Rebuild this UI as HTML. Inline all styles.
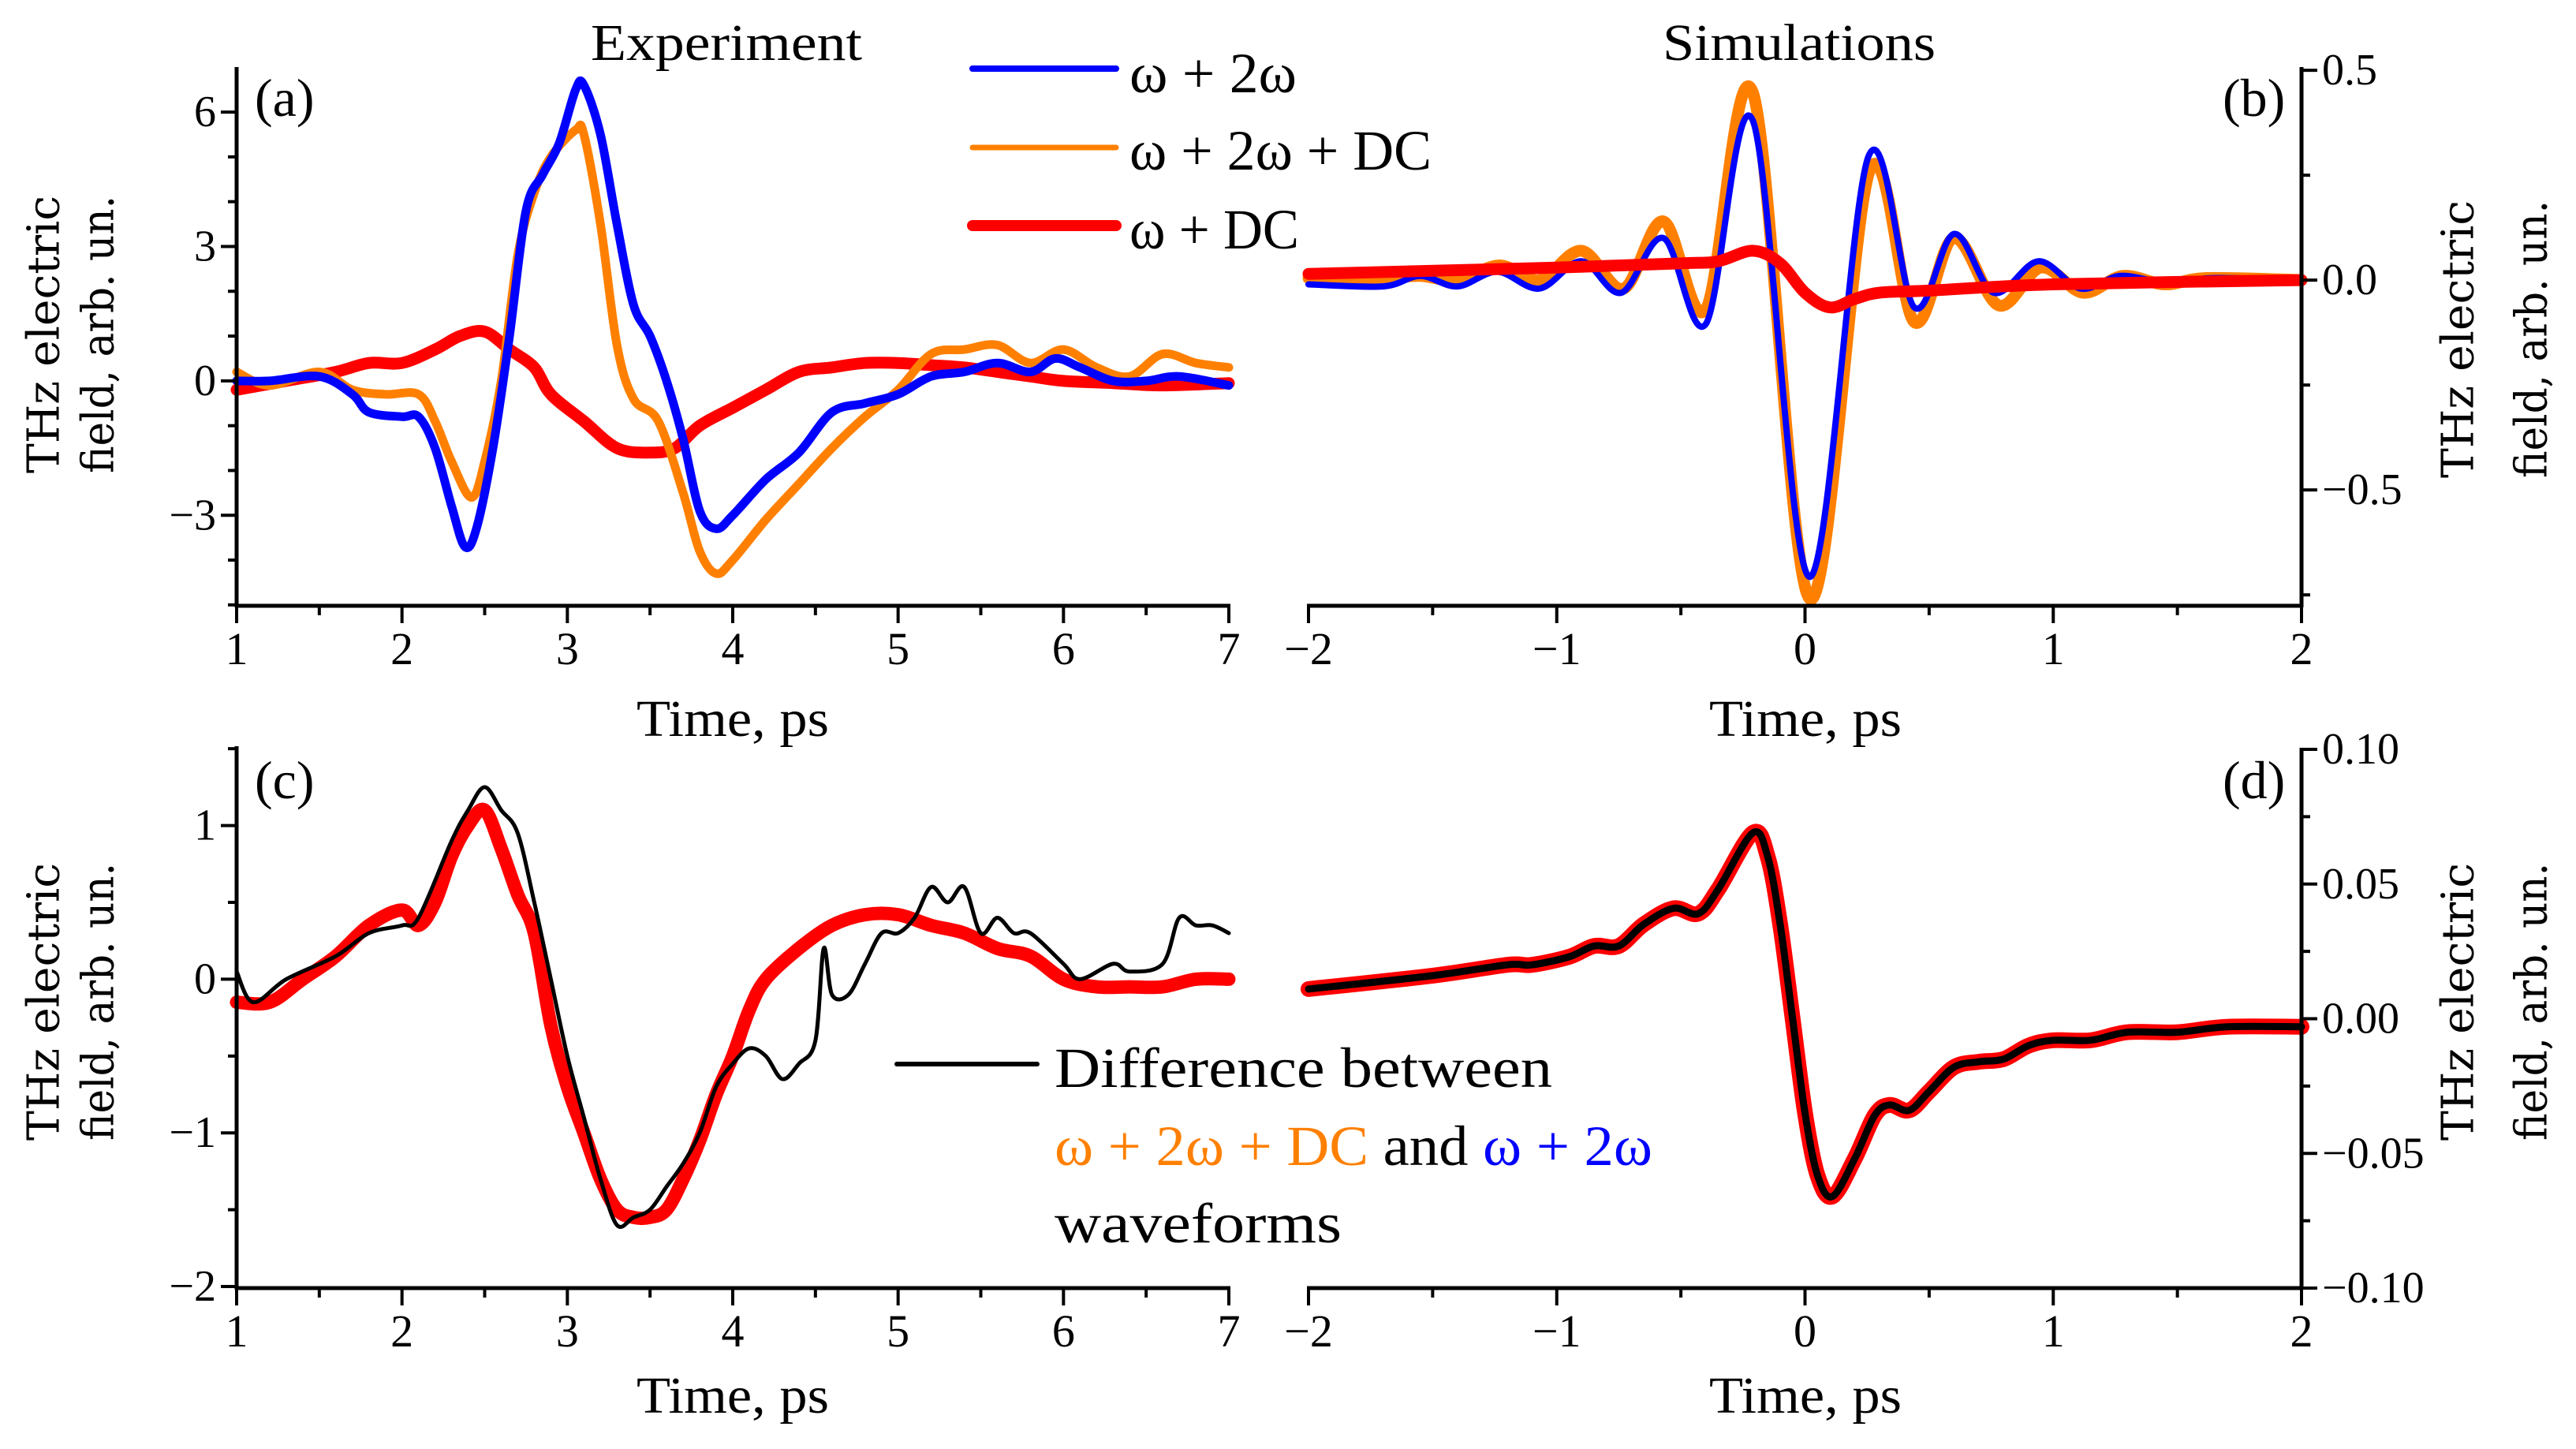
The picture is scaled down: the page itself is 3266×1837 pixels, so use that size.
<!DOCTYPE html>
<html><head><meta charset="utf-8"><style>
html,body{margin:0;padding:0;background:#fff;}
svg{display:block;}
</style></head><body>
<svg id="fig" width="3266" height="1837" viewBox="0 0 3266 1837" xmlns="http://www.w3.org/2000/svg">
<g id="layer"></g>
</svg>
<script>
// Panel (a) experiment
const aT = [1,1.2,1.5,1.7,1.8,2.0,2.1,2.2,2.3,2.38,2.45,2.55,2.65,2.75,2.85,2.95,3.05,3.1,3.2,3.3,3.4,3.5,3.6,3.7,3.8,3.9,4.0,4.2,4.4,4.6,4.8,5.0,5.2,5.4,5.6,5.8,5.95,6.1,6.3,6.5,6.7,7];
const aBlue = [0,0,0.1,-0.3,-0.7,-0.8,-0.8,-1.5,-2.8,-3.7,-3.3,-1.5,1.0,3.8,4.6,5.3,6.5,6.6,5.5,3.5,1.7,1.0,0,-1.3,-2.9,-3.3,-3.0,-2.2,-1.6,-0.7,-0.5,-0.3,0.1,0.2,0.4,0.2,0.5,0.3,0,0,0.1,-0.1];
const aOT = [1,1.2,1.5,1.7,1.9,2.1,2.2,2.3,2.42,2.5,2.6,2.7,2.8,2.9,3.05,3.1,3.2,3.3,3.4,3.55,3.7,3.8,3.9,4.0,4.2,4.4,4.6,4.8,5.0,5.2,5.4,5.6,5.8,6.0,6.2,6.4,6.6,6.8,7];
const aOrange = [0.2,-0.1,0.2,-0.2,-0.3,-0.3,-0.9,-1.8,-2.6,-1.8,0,2.8,4.2,5.0,5.6,5.5,3.5,0.8,-0.4,-0.9,-2.5,-3.8,-4.3,-4.0,-3.1,-2.3,-1.5,-0.8,-0.2,0.6,0.7,0.8,0.4,0.7,0.3,0.1,0.6,0.4,0.3];
const aRT = [1,1.3,1.6,1.8,2.0,2.2,2.35,2.5,2.65,2.8,2.9,3.1,3.3,3.5,3.65,3.8,4.0,4.2,4.4,4.6,4.8,5.0,5.2,5.4,5.6,5.8,6.0,6.3,6.6,7];
const aRed = [-0.2,0,0.2,0.4,0.4,0.7,1.0,1.1,0.7,0.3,-0.3,-0.9,-1.5,-1.6,-1.5,-1.0,-0.6,-0.2,0.2,0.3,0.4,0.4,0.35,0.3,0.2,0.1,0,-0.05,-0.1,-0.05];
const aXTicks = [1,2,3,4,5,6,7];
const aYTicks = [-3,0,3,6];
// Panel (b) simulations
const bBT = [-2,-1.7,-1.55,-1.4,-1.24,-1.07,-0.9,-0.74,-0.57,-0.4,-0.21,0.017,0.255,0.44,0.6,0.76,0.94,1.11,1.27,1.45,1.65,2];
const bBlue = [-0.01,-0.015,0.01,-0.015,0.02,-0.02,0.045,-0.03,0.10,-0.105,0.38,-0.707,0.294,-0.065,0.11,-0.03,0.045,-0.02,0.01,-0.005,0.005,0];
const bOT = [-2,-1.7,-1.55,-1.4,-1.23,-1.07,-0.9,-0.73,-0.57,-0.4,-0.21,0.02,0.26,0.44,0.6,0.78,0.95,1.12,1.28,1.45,1.62,2];
const bOrange = [0.005,0.005,0.01,0.0,0.035,0.0,0.07,-0.02,0.14,-0.07,0.447,-0.76,0.26,-0.10,0.10,-0.06,0.03,-0.03,0.01,-0.01,0.005,0];
const bRT = [-2,-1,-0.5,-0.35,-0.21,-0.1,0,0.1,0.2,0.3,0.5,1.0,2.0];
const bRed = [0.015,0.03,0.04,0.045,0.07,0.04,-0.03,-0.065,-0.045,-0.03,-0.025,-0.01,0];
const bXTicks = [-2,-1,0,1,2];
const bYTicks = [-0.5,0.0,0.5];
// Panel (c)
const cRT = [1,1.2,1.4,1.6,1.8,2.0,2.1,2.2,2.3,2.4,2.5,2.6,2.7,2.8,2.9,3.0,3.1,3.2,3.3,3.4,3.5,3.6,3.7,3.8,3.9,4.0,4.1,4.2,4.4,4.6,4.8,5.0,5.2,5.4,5.6,5.8,6.0,6.2,6.4,6.6,6.8,7.0];
const cRed = [-0.15,-0.15,0,0.15,0.35,0.45,0.35,0.5,0.8,1.0,1.1,0.85,0.55,0.3,-0.3,-0.7,-1.0,-1.3,-1.5,-1.55,-1.55,-1.5,-1.3,-1.05,-0.75,-0.5,-0.2,0,0.2,0.35,0.42,0.42,0.35,0.3,0.2,0.15,0,-0.05,-0.05,-0.05,0,0];
const cKT = [1,1.1,1.3,1.6,1.8,2.0,2.1,2.3,2.4,2.5,2.6,2.7,2.8,2.9,3.0,3.1,3.2,3.3,3.4,3.5,3.6,3.7,3.8,3.9,4.0,4.1,4.2,4.3,4.4,4.5,4.55,4.6,4.7,4.8,4.9,5.0,5.1,5.2,5.3,5.4,5.5,5.6,5.7,5.8,6.0,6.1,6.3,6.4,6.6,6.7,6.8,6.9,7.0];
const cBlack = [0.05,-0.15,0,0.15,0.3,0.35,0.4,0.9,1.1,1.25,1.1,0.95,0.5,0,-0.5,-0.9,-1.3,-1.6,-1.55,-1.5,-1.35,-1.2,-1.0,-0.7,-0.55,-0.45,-0.5,-0.65,-0.55,-0.4,0.2,-0.1,-0.1,0.1,0.3,0.3,0.4,0.6,0.5,0.6,0.3,0.4,0.3,0.3,0.1,0,0.1,0.05,0.1,0.4,0.35,0.35,0.3];
const cYTicks = [-2,-1,0,1];
// Panel (d)
const dT = [-2,-1.5,-1.2,-1.1,-0.95,-0.85,-0.75,-0.65,-0.53,-0.43,-0.35,-0.21,-0.15,-0.1,-0.05,0,0.05,0.11,0.2,0.28,0.34,0.42,0.5,0.6,0.7,0.8,0.9,1.0,1.15,1.3,1.5,1.7,2.0];
const dRed = [0.011,0.016,0.020,0.020,0.023,0.027,0.027,0.035,0.041,0.039,0.048,0.069,0.06,0.035,0,-0.035,-0.058,-0.066,-0.052,-0.036,-0.032,-0.034,-0.027,-0.018,-0.016,-0.015,-0.01,-0.008,-0.008,-0.005,-0.005,-0.003,-0.003];
const dBlack = [0.011,0.016,0.020,0.020,0.023,0.027,0.027,0.035,0.041,0.039,0.048,0.069,0.06,0.035,0,-0.035,-0.058,-0.066,-0.052,-0.036,-0.032,-0.034,-0.027,-0.018,-0.016,-0.015,-0.01,-0.008,-0.008,-0.005,-0.005,-0.003,-0.003];
const dYTicks = [-0.10,-0.05,0.00,0.05,0.10];

const NS = "http://www.w3.org/2000/svg";
const root = document.getElementById('layer');
function mk(tag, attrs, parent){
  const e = document.createElementNS(NS, tag);
  for (const k in attrs) e.setAttribute(k, attrs[k]);
  (parent||root).appendChild(e);
  return e;
}
function lin(d0,d1,r0,r1){ return v => r0 + (v-d0)*(r1-r0)/(d1-d0); }
const SERIF = '"Liberation Serif", "DejaVu Serif", serif';
const WSERIF = '"DejaVu Serif", "Liberation Serif", serif';

const P = {
  a:{x:lin(1,7,300,1558), y:lin(-5.02,6.97,768,87), L:300,R:1558,T:87,B:768},
  b:{x:lin(-2,2,1659,2918), y:lin(-0.776,0.504,768,87), L:1659,R:2918,T:87,B:768},
  c:{x:lin(1,7,300,1558), y:lin(-2.01,1.506,1633,948), L:300,R:1558,T:948,B:1633},
  d:{x:lin(-2,2,1659,2918), y:lin(-0.1,0.1,1633,950), L:1659,R:2918,T:950,B:1633}
};

function smoothPath(xs, ys){
  const pts = xs.map((v,i)=>[v,ys[i]]);
  let d = 'M'+pts[0][0].toFixed(1)+','+pts[0][1].toFixed(1);
  for (let i=0;i<pts.length-1;i++){
    const p0=pts[Math.max(0,i-1)], p1=pts[i], p2=pts[i+1], p3=pts[Math.min(pts.length-1,i+2)];
    const c1=[p1[0]+(p2[0]-p0[0])/6, p1[1]+(p2[1]-p0[1])/6];
    const c2=[p2[0]-(p3[0]-p1[0])/6, p2[1]-(p3[1]-p1[1])/6];
    d += ' C'+c1[0].toFixed(1)+','+c1[1].toFixed(1)+' '+c2[0].toFixed(1)+','+c2[1].toFixed(1)+' '+p2[0].toFixed(1)+','+p2[1].toFixed(1);
  }
  return d;
}
function series(p, ts, vs, color, w, name){
  const e = mk('path',{d:smoothPath(ts.map(p.x), vs.map(p.y)), fill:'none', stroke:color, 'stroke-width':w, 'stroke-linejoin':'round','stroke-linecap':'round'});
  
  
}
function text(x,y,str,opts,name){
  const e = mk('text',Object.assign({x:x,y:y,'font-family':SERIF,'font-size':54,fill:'#000'},opts||{}));
  e.textContent = str;
  
  
  return e;
}
function line(x1,y1,x2,y2,w,name){
  const e = mk('line',{x1:x1,y1:y1,x2:x2,y2:y2,stroke:'#000','stroke-width':w});
  
  
}
function fmt(v,dec){ return (v<0?'\u2212':'')+Math.abs(v).toFixed(dec); }

function xAxis(p, ticks, minorStep, lblY, pn){
  line(p.L-2, p.B, p.R+2, p.B, 5, pn+'-x-axis');
  for (let t=ticks[0]; t<=ticks[ticks.length-1]+1e-9; t+=minorStep){
    const maj = ticks.some(k=>Math.abs(k-t)<1e-9);
    line(p.x(t), p.B, p.x(t), p.B+(maj?22:12), 4, pn+(maj?'-x-major-tick':'-x-minor-tick'));
  }
  ticks.forEach(t=>text(p.x(t), lblY, fmt(t,0), {'text-anchor':'middle','font-size':58}, pn+'-x-tick-label'));
}
function yAxisLeft(p, ticks, minorStep, lo, hi, dec, pn){
  line(p.L, p.T-2, p.L, p.B+2, 5, pn+'-y-axis');
  for (let v=lo; v<=hi+1e-9; v+=minorStep){
    const maj = ticks.some(k=>Math.abs(k-v)<1e-9);
    line(p.L-(maj?20:11), p.y(v), p.L, p.y(v), 4, pn+(maj?'-y-major-tick':'-y-minor-tick'));
  }
  ticks.forEach(v=>text(p.L-26, p.y(v), fmt(v,dec), {'text-anchor':'end','dominant-baseline':'central','font-size':56}, pn+'-y-tick-label'));
}
function yAxisRight(p, ticks, minorStep, lo, hi, dec, pn){
  line(p.R, p.T-2, p.R, p.B+2, 5, pn+'-y-axis');
  for (let v=lo; v<=hi+1e-9; v+=minorStep){
    const maj = ticks.some(k=>Math.abs(k-v)<1e-9);
    line(p.R, p.y(v), p.R+(maj?20:11), p.y(v), 4, pn+(maj?'-y-major-tick':'-y-minor-tick'));
  }
  ticks.forEach(v=>text(p.R+26, p.y(v), (v<0?'\u2212':'')+Math.abs(v).toFixed(dec), {'text-anchor':'start','dominant-baseline':'central','font-size':56}, pn+'-y-tick-label'));
}

// Panel a
series(P.a, aRT, aRed, '#ff0000', 15, 'a-omega-dc-line');
series(P.a, aOT, aOrange, '#ff8000', 11, 'a-omega-2omega-dc-line');
series(P.a, aT, aBlue, '#0000ff', 11, 'a-omega-2omega-line');
xAxis(P.a, aXTicks, 0.5, 842, 'a');
yAxisLeft(P.a, aYTicks, 1, -5, 6, 0, 'a');

// Panel b
series(P.b, bOT, bOrange, '#ff8000', 15, 'b-omega-2omega-dc-line');
series(P.b, bBT, bBlue, '#0000ff', 8, 'b-omega-2omega-line');
series(P.b, bRT, bRed, '#ff0000', 15, 'b-omega-dc-line');
xAxis(P.b, bXTicks, 0.5, 842, 'b');
yAxisRight(P.b, bYTicks, 0.25, -0.75, 0.5, 1, 'b');

// Panel c
series(P.c, cRT, cRed, '#ff0000', 17, 'c-omega-dc-line');
series(P.c, cKT, cBlack, '#000000', 5, 'c-difference-line');
xAxis(P.c, aXTicks, 0.5, 1707, 'c');
yAxisLeft(P.c, cYTicks, 0.5, -2, 1.5, 0, 'c');

// Panel d
series(P.d, dT, dRed, '#ff0000', 20, 'd-omega-dc-line');
series(P.d, dT, dBlack, '#000000', 9, 'd-difference-line');
xAxis(P.d, bXTicks, 0.5, 1707, 'd');
yAxisRight(P.d, dYTicks, 0.025, -0.1, 0.1, 2, 'd');

// Titles and axis titles
const TL = {'text-anchor':'middle','font-size':66,lengthAdjust:'spacingAndGlyphs'};
text(921, 76, 'Experiment', Object.assign({textLength:344},TL), 'experiment-title');
text(2281, 76, 'Simulations', Object.assign({textLength:346},TL), 'simulations-title');
text(929, 933, 'Time, ps', Object.assign({textLength:244},TL), 'a-x-axis-title');
text(2289, 933, 'Time, ps', Object.assign({textLength:244},TL), 'b-x-axis-title');
text(929, 1791, 'Time, ps', Object.assign({textLength:244},TL), 'c-x-axis-title');
text(2289, 1791, 'Time, ps', Object.assign({textLength:244},TL), 'd-x-axis-title');
text(323, 147, '(a)', {'font-size':68}, 'panel-a-label');
text(2818, 147, '(b)', {'font-size':68}, 'panel-b-label');
text(323, 1012, '(c)', {'font-size':68}, 'panel-c-label');
text(2818, 1012, '(d)', {'font-size':68}, 'panel-d-label');

function ylab(cx, cy, str, name){
  return text(0,0,str,{'text-anchor':'middle','dominant-baseline':'central','font-family':WSERIF,'font-size':56,
    textLength:352,lengthAdjust:'spacingAndGlyphs',transform:'translate('+cx+','+cy+') rotate(-90)'}, name);
}
ylab(56, 424, 'THz electric', 'a-y-axis-title-line1');
ylab(125, 424, 'field, arb. un.', 'a-y-axis-title-line2');
ylab(56, 1270, 'THz electric', 'c-y-axis-title-line1');
ylab(125, 1270, 'field, arb. un.', 'c-y-axis-title-line2');
ylab(3117, 430, 'THz electric', 'b-y-axis-title-line1');
ylab(3210, 430, 'field, arb. un.', 'b-y-axis-title-line2');
ylab(3117, 1270, 'THz electric', 'd-y-axis-title-line1');
ylab(3210, 1270, 'field, arb. un.', 'd-y-axis-title-line2');

function legLine(x1,x2,y,c,w,name){
  const e = mk('line',{x1:x1,y1:y,x2:x2,y2:y,stroke:c,'stroke-width':w,'stroke-linecap':'round'});
  
  
}
const LG = {'font-size':72,lengthAdjust:'spacingAndGlyphs'};
legLine(1233,1415,87,'#0000ff',8,'legend-omega-2omega-swatch');
legLine(1233,1415,187,'#ff8000',7,'legend-omega-2omega-dc-swatch');
legLine(1233,1415,286,'#ff0000',14,'legend-omega-dc-swatch');
text(1432,117,'\u03c9 + 2\u03c9',Object.assign({textLength:212},LG),'legend-omega-2omega-label');
text(1432,215,'\u03c9 + 2\u03c9 + DC',Object.assign({textLength:383},LG),'legend-omega-2omega-dc-label');
text(1432,315,'\u03c9 + DC',Object.assign({textLength:215},LG),'legend-omega-dc-label');

legLine(1137,1315,1349,'#000000',6,'legend-difference-swatch');
text(1337,1378,'Difference between',Object.assign({textLength:631},LG),'legend-difference-line1');
const t2 = text(1337,1477,'',Object.assign({textLength:758},LG),'legend-difference-line2');
[['\u03c9 + 2\u03c9 + DC','#ff8000'],[' and ','#000'],['\u03c9 + 2\u03c9','#0000ff']].forEach(([s,c])=>{
  const sp = mk('tspan',{fill:c},t2); sp.textContent = s;
});
text(1337,1575,'waveforms',Object.assign({textLength:364},LG),'legend-difference-line3');
</script>
</body></html>
